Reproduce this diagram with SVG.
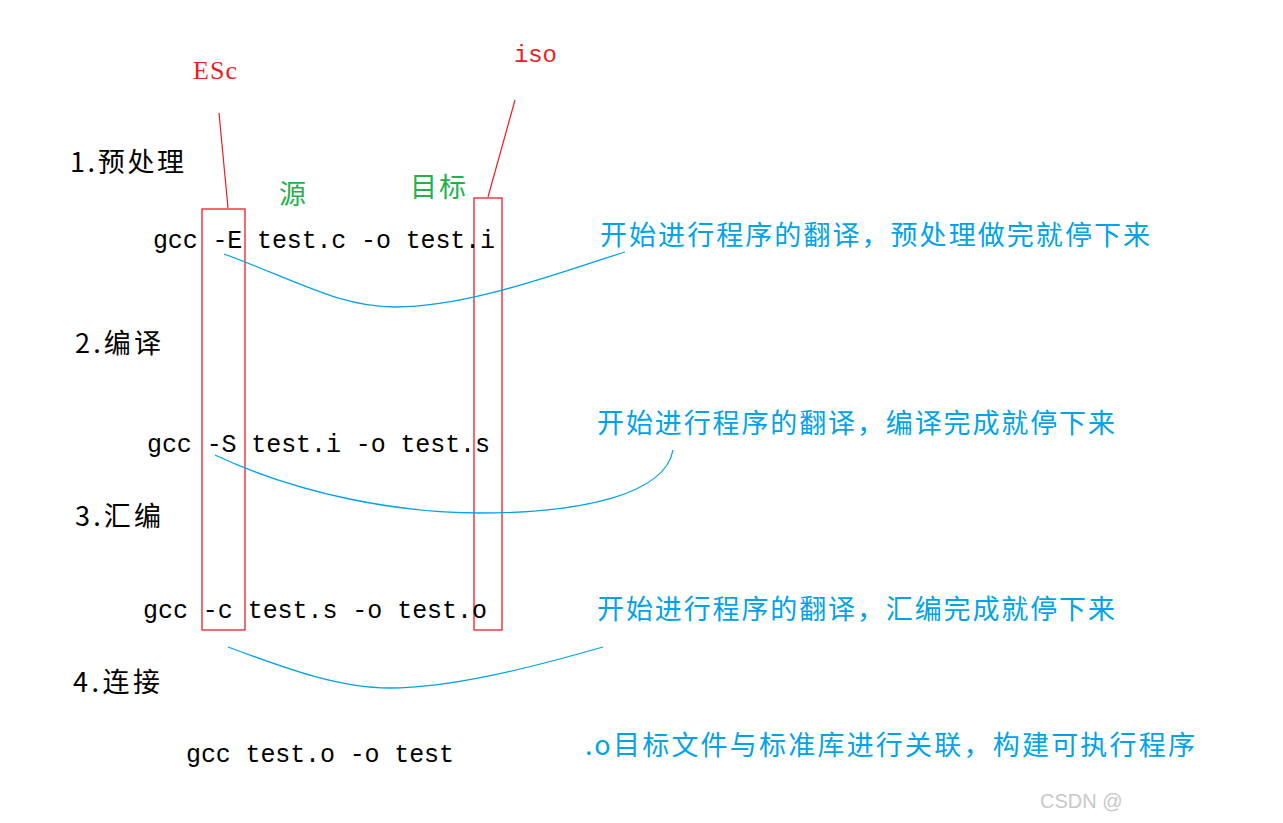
<svg xmlns="http://www.w3.org/2000/svg" width="1283" height="823" viewBox="0 0 1283 823">
<style>
.bg{fill:#ffffff}
.lbl{font-family:"Noto Sans CJK SC","Liberation Serif",serif;font-size:27px;fill:#000}
.cmd{font-family:"Liberation Mono","DejaVu Sans Mono",monospace;font-size:25px;fill:#000}
.red{font-family:"Liberation Serif",serif;font-size:26px;fill:#ed1c24}
.redm{font-family:"Liberation Mono",monospace;font-size:24px;fill:#ed1c24}
.grn{font-family:"Noto Sans CJK SC",sans-serif;font-size:27px;fill:#22b14c}
.blu{font-family:"Noto Sans CJK SC",sans-serif;font-size:27px;fill:#00a2e8}
.box{fill:none;stroke:#ed1c24;stroke-width:1.3}
.rl{fill:none;stroke:#ed1c24;stroke-width:1.2}
.bc{fill:none;stroke:#00a2e8;stroke-width:1.3}
.wm{font-family:"Liberation Sans",sans-serif;font-size:20px;fill:#c8c8c8}
</style>
<rect class="bg" x="0" y="0" width="1283" height="823"/>
<g id="annotations">
  <text class="red" x="193" y="79" textLength="44">ESc</text>
  <text class="redm" x="514" y="62" textLength="43">iso</text>
  <text class="grn" x="279" y="204">源</text>
  <text class="grn" x="410" y="197" textLength="56">目标</text>
</g>
<g id="boxes">
  <rect class="box" x="202" y="209" width="43" height="421"/>
  <rect class="box" x="474" y="198" width="28" height="432"/>
</g>
<g id="step1">
  <text class="lbl" x="70" y="172" textLength="114">1.预处理</text>
  <text class="cmd" x="153" y="248" textLength="342">gcc -E test.c -o test.i</text>
  <text class="blu" x="600" y="245" textLength="550">开始进行程序的翻译，预处理做完就停下来</text>
</g>
<g id="step2">
  <text class="lbl" x="75" y="353" textLength="86">2.编译</text>
  <text class="cmd" x="147" y="452" textLength="343">gcc -S test.i -o test.s</text>
  <text class="blu" x="597" y="433" textLength="518">开始进行程序的翻译，编译完成就停下来</text>
</g>
<g id="step3">
  <text class="lbl" x="75" y="526" textLength="86">3.汇编</text>
  <text class="cmd" x="143" y="618" textLength="344">gcc -c test.s -o test.o</text>
  <text class="blu" x="597" y="619" textLength="518">开始进行程序的翻译，汇编完成就停下来</text>
</g>
<g id="step4">
  <text class="lbl" x="73" y="692" textLength="87">4.连接</text>
  <text class="cmd" x="186" y="762" textLength="268">gcc test.o -o test</text>
  <text class="blu" x="585" y="755" textLength="610">.o目标文件与标准库进行关联，构建可执行程序</text>
</g>
<g id="connectors">
  <path class="rl" d="M219,113 L228,208"/>
  <path class="rl" d="M515,100 L488,197"/>
  <path class="bc" d="M224,254 C300,282 340,307 395,307 C470,307 560,272 625,252"/>
  <path class="bc" d="M215,455 C300,495 400,513 480,513 C580,513 665,495 673,450"/>
  <path class="bc" d="M228,647 C290,670 340,688 390,688 C450,688 530,668 603,647"/>
</g>
<text class="wm" x="1040" y="808">CSDN @</text>
</svg>
